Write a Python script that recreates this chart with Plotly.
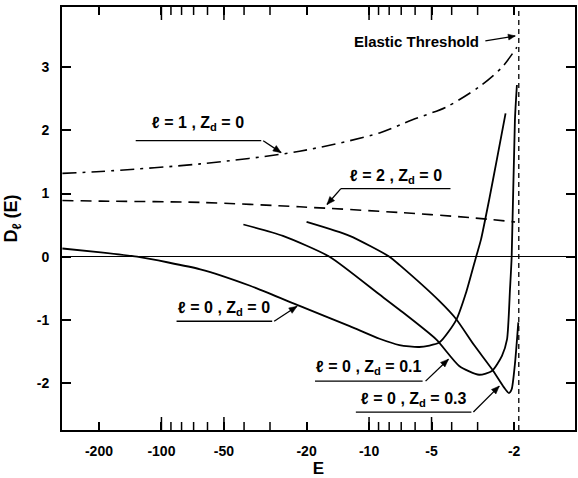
import math
import plotly.graph_objects as go

# ---------------- data ----------------
E_l1 = [-300, -196, -65, -21.6, -8.9, -6.18, -4.25, -2.95, -2.29, -1.94]
D_l1 = [1.32, 1.35, 1.47, 1.67, 1.96, 2.17, 2.37, 2.69, 3.0, 3.32]

E_l2 = [-300, -196, -65, -21.6, -7.14, -3.29, -1.98]
D_l2 = [0.89, 0.88, 0.86, 0.79, 0.70, 0.62, 0.55]

E_z0 = [-300, -196, -131, -65, -37.4, -21.6, -12.4, -8.9, -7.14, -5.73, -4.59,
        -3.80, -3.41, -3.05, -2.89, -2.64, -2.42, -2.20]
D_z0 = [0.13, 0.07, 0.0, -0.2, -0.46, -0.78, -1.1, -1.3, -1.40, -1.43, -1.36,
        -1.0, -0.57, 0.0, 0.27, 0.9, 1.55, 2.27]

E_z1 = [-40.3, -26.0, -15.5, -8.9, -7.14, -4.75, -3.68, -2.95, -2.56, -2.29,
        -2.165, -2.095, -2.056, -1.983, -1.94]
D_z1 = [0.51, 0.33, 0.0, -0.6, -0.84, -1.31, -1.73, -1.87, -1.81, -1.57,
        -1.31, -0.52, 0.0, 2.17, 2.72]

E_z3 = [-20.0, -12.4, -7.98, -7.14, -4.59, -3.80, -3.12, -2.56, -2.24, -2.12,
        -2.056, -1.983, -1.91]
D_z3 = [0.55, 0.33, 0.0, -0.13, -0.70, -0.99, -1.4, -1.78, -2.07, -2.16,
        -2.1, -1.7, -1.04]

E_threshold = -1.9
Y_RANGE = [-2.745, 3.955]

x_tick_vals = [-200, -100, -50, -20, -10, -5, -2]
x_tick_text = ["-200", "-100", "-50", "-20", "-10", "-5", "-2"]
x_minor_vals = [-90, -80, -70, -60, -40, -30, -9, -8, -7, -6, -4, -3]
x_long_vals = [-100, -50, -10, -5]
y_tick_vals = [-2, -1, 0, 1, 2, 3]
y_tick_text = ["-2", "-1", "0", "1", "2", "3"]

FONT = "Liberation Sans"


def neg(v):
    return [-e for e in v]


fig = go.Figure()

fig.add_trace(go.Scatter(x=neg(E_l1), y=D_l1, mode="lines",
                         line=dict(color="black", width=1.6, dash="14px,6px,3px,6px",
                                   shape="spline", smoothing=0.8)))
fig.add_trace(go.Scatter(x=neg(E_l2), y=D_l2, mode="lines",
                         line=dict(color="black", width=1.6, dash="11px,7px",
                                   shape="spline", smoothing=0.8)))
for ex, dy in [(E_z0, D_z0), (E_z1, D_z1), (E_z3, D_z3)]:
    fig.add_trace(go.Scatter(x=neg(ex), y=dy, mode="lines",
                             line=dict(color="black", width=1.8, shape="spline", smoothing=0.6)))
fig.add_trace(go.Scatter(x=[-E_threshold, -E_threshold], y=Y_RANGE, mode="lines",
                         line=dict(color="black", width=1.3, dash="5px,4px")))

# ---------- layout helpers (pixel -> paper) ----------
L, R, T, B = 62, 577, 7, 431


def px(x):
    return (x - L) / (R - L)


def py(y):
    return (B - y) / (B - T)


shapes = []


def tick_mark(v, length):
    shapes.append(dict(type="line", xref="x", yref="paper", x0=-v, x1=-v,
                       ysizemode="pixel", yanchor=0, y0=0, y1=length,
                       line=dict(color="black", width=1.5)))
    shapes.append(dict(type="line", xref="x", yref="paper", x0=-v, x1=-v,
                       ysizemode="pixel", yanchor=1, y0=0, y1=-length,
                       line=dict(color="black", width=1.5)))


for v in x_long_vals:
    tick_mark(v, 13)
for v in x_minor_vals:
    tick_mark(v, 8)

annotations = []


def arrow(tail, head, length=8, half=3.2):
    shapes.append(dict(type="line", xref="paper", yref="paper",
                       x0=px(tail[0]), y0=py(tail[1]), x1=px(head[0]), y1=py(head[1]),
                       line=dict(color="black", width=1.3)))
    dx, dy = head[0] - tail[0], head[1] - tail[1]
    n = math.hypot(dx, dy)
    ux, uy = dx / n, dy / n
    bx, by = head[0] - ux * length, head[1] - uy * length
    p1 = (bx - uy * half, by + ux * half)
    p2 = (bx + uy * half, by - ux * half)
    path = "M {},{} L {},{} L {},{} Z".format(px(head[0]), py(head[1]),
                                              px(p1[0]), py(p1[1]),
                                              px(p2[0]), py(p2[1]))
    shapes.append(dict(type="path", xref="paper", yref="paper", path=path,
                       fillcolor="black", line=dict(color="black", width=0.5)))


LABEL_FONT = dict(family=FONT, size=16, color="black", weight="bold")


def label(text, x0, x1, ytext, yline, tail, head):
    annotations.append(dict(text=text, xref="paper", yref="paper",
                            x=px((x0 + x1) / 2), y=py(ytext), showarrow=False,
                            xanchor="center", yanchor="middle", font=LABEL_FONT))
    shapes.append(dict(type="line", xref="paper", yref="paper",
                       x0=px(x0), x1=px(x1), y0=py(yline), y1=py(yline),
                       line=dict(color="black", width=1.3)))
    arrow(tail, head)


label("ℓ = 1 , Z<sub>d</sub> = 0", 136, 262, 124, 141, (264, 141), (282, 153))
label("ℓ = 2 , Z<sub>d</sub> = 0", 342, 452, 177, 189, (342, 189), (328, 205))
label("ℓ = 0 , Z<sub>d</sub> = 0", 177, 273, 309, 322, (275, 322), (298, 307))
label("ℓ = 0 , Z<sub>d</sub> = 0.1", 316, 424, 368, 382, (427, 382), (450, 360))
label("ℓ = 0 , Z<sub>d</sub> = 0.3", 357, 473, 400, 413, (475, 413), (501, 387))

annotations.append(dict(text="Elastic Threshold", xref="paper", yref="paper",
                        x=px(483), y=py(42), xanchor="right", yanchor="middle",
                        showarrow=False, font=dict(family=FONT, size=15, color="black", weight="bold")))
arrow((487, 41), (517, 36), length=7, half=3)

TICK_FONT = dict(family=FONT, size=14, color="black", weight="bold")

fig.update_layout(
    width=578, height=478,
    margin=dict(l=L, r=578 - R, t=T, b=478 - B),
    paper_bgcolor="white", plot_bgcolor="white",
    showlegend=False,
    font=dict(family=FONT, size=15, color="black"),
    shapes=shapes, annotations=annotations,
    xaxis=dict(type="log", range=[2.479, 0.008],
               tickvals=neg(x_tick_vals), ticktext=x_tick_text, tickfont=TICK_FONT,
               ticks="inside", ticklen=8, tickwidth=1.5, tickcolor="black",
               showline=True, linewidth=2, linecolor="black", mirror="ticks",
               showgrid=False, zeroline=False, ticklabelstandoff=7,
               title=dict(text="E", font=dict(family=FONT, size=17, weight="bold"), standoff=6)),
    yaxis=dict(range=Y_RANGE, tickvals=y_tick_vals, ticktext=y_tick_text, tickfont=TICK_FONT,
               ticks="inside", ticklen=9, tickwidth=1.5, tickcolor="black",
               showline=True, linewidth=2, linecolor="black", mirror="ticks",
               showgrid=False, zeroline=True, zerolinecolor="black", zerolinewidth=1.2,
               ticklabelstandoff=8,
               title=dict(text="D<sub>ℓ</sub> (E)", font=dict(family=FONT, size=18, weight="bold"),
                          standoff=14)),
)

fig.write_html("out.html")
